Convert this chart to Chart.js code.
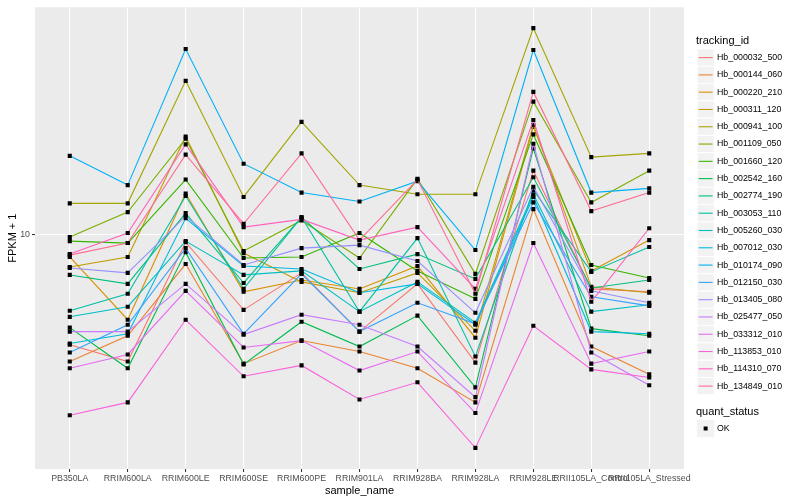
<!DOCTYPE html>
<html>
<head>
<meta charset="utf-8">
<script src="https://cdn.jsdelivr.net/npm/chart.js@4"></script>
<style>
  html, body { margin: 0; padding: 0; background: #fff; }
  #wrap { width: 800px; height: 500px; position: relative; }
</style>
</head>
<body>
<div id="wrap"><canvas id="fpkmChart" width="800" height="500"></canvas></div>
<script>
// sample names along x
const sampleNames = ["PB350LA", "RRIM600LA", "RRIM600LE", "RRIM600SE", "RRIM600PE", "RRIM901LA",
  "RRIM928BA", "RRIM928LA", "RRIM928LE", "RRII105LA_Control", "RRII105LA_Stressed"];

const trackingIds = ["Hb_000032_500", "Hb_000144_060", "Hb_000220_210", "Hb_000311_120", "Hb_000941_100",
  "Hb_001109_050", "Hb_001660_120", "Hb_002542_160", "Hb_002774_190", "Hb_003053_110", "Hb_005260_030",
  "Hb_007012_030", "Hb_010174_090", "Hb_012150_030", "Hb_013405_080", "Hb_025477_050", "Hb_033312_010",
  "Hb_113853_010", "Hb_114310_070", "Hb_134849_010"];

// FPKM + 1 per sample, one array per gene
const hb_000032_500 = [4.01, 3.49, 9.36, 5.35, 7.26, 4.47, 6.63, 3.46, 16.9, 6.36, 6.21];
const hb_000144_060 = [3.49, 4.32, 7.81, 3.43, 4.15, 3.79, 3.30, 2.49, 12.3, 3.95, 3.14];
const hb_000220_210 = [8.28, 4.93, 14.0, 6.21, 6.85, 6.36, 7.69, 4.25, 24.3, 7.38, 9.52];
const hb_000311_120 = [7.62, 8.28, 22.4, 8.55, 6.74, 6.16, 7.26, 4.50, 24.7, 6.47, 6.16];
const hb_000941_100 = [12.9, 12.9, 35.5, 13.6, 25.3, 15.0, 13.9, 13.9, 54.9, 18.9, 19.5];
const hb_001109_050 = [9.76, 12.0, 22.0, 8.70, 11.2, 8.21, 15.8, 7.20, 29.9, 13.0, 16.9];
const hb_001660_120 = [9.44, 9.29, 15.7, 8.21, 8.28, 10.1, 7.38, 5.86, 22.8, 7.75, 6.96];
const hb_002542_160 = [4.62, 3.30, 8.62, 3.41, 4.85, 3.95, 5.10, 2.82, 20.3, 4.58, 4.32];
const hb_002774_190 = [7.14, 6.63, 11.9, 6.68, 11.5, 7.50, 8.48, 6.91, 16.0, 6.41, 6.85];
const hb_003053_110 = [5.31, 6.11, 13.7, 6.36, 11.5, 5.27, 9.68, 3.64, 14.4, 7.32, 8.99];
const hb_005260_030 = [5.05, 5.49, 9.44, 7.14, 7.38, 5.27, 6.74, 4.81, 13.9, 5.27, 5.58];
const hb_007012_030 = [4.05, 4.39, 11.4, 7.69, 7.50, 6.16, 6.63, 4.73, 13.6, 4.47, 4.39];
const hb_010174_090 = [19.1, 15.0, 46.2, 17.9, 14.1, 13.1, 15.5, 8.77, 45.8, 14.1, 14.6];
const hb_012150_030 = [3.76, 4.73, 8.91, 4.39, 7.20, 4.47, 5.67, 4.77, 13.0, 5.96, 5.53];
const hb_013405_080 = [7.56, 7.26, 11.6, 7.75, 8.91, 9.13, 8.01, 5.22, 14.8, 6.26, 5.67];
const hb_025477_050 = [4.47, 4.47, 6.63, 4.36, 5.14, 4.73, 3.95, 2.60, 21.1, 3.76, 2.87];
const hb_033312_010 = [3.30, 3.70, 6.26, 3.92, 4.15, 3.24, 3.79, 2.28, 9.29, 3.43, 3.79];
const hb_113853_010 = [2.24, 2.49, 4.93, 3.09, 3.38, 2.55, 2.94, 1.71, 4.69, 3.27, 3.06];
const hb_114310_070 = [8.48, 10.1, 21.0, 10.6, 11.3, 9.52, 10.6, 6.36, 25.7, 5.72, 10.5];
const hb_134849_010 = [8.41, 9.29, 19.3, 10.9, 19.5, 9.52, 15.7, 6.11, 32.4, 12.1, 14.1];

const seriesValues = [hb_000032_500, hb_000144_060, hb_000220_210, hb_000311_120, hb_000941_100,
  hb_001109_050, hb_001660_120, hb_002542_160, hb_002774_190, hb_003053_110, hb_005260_030,
  hb_007012_030, hb_010174_090, hb_012150_030, hb_013405_080, hb_025477_050, hb_033312_010,
  hb_113853_010, hb_114310_070, hb_134849_010];

const yTicks = [10];

// ggplot default hue palette for 20 groups
const hueColors = ["#F8766D", "#EA8331", "#D89000", "#C09B00", "#A3A500", "#7CAE00", "#39B600",
  "#00BB4E", "#00BF7D", "#00C1A3", "#00BFC4", "#00BAE0", "#00B0F6", "#35A2FF", "#9590FF",
  "#C77CFF", "#E76BF3", "#FA62DB", "#FF62BC", "#FF6C91"];

const FONT = '"Liberation Sans", Arial, sans-serif';

const panelBg = {
  id: 'panelBg',
  beforeDraw(chart) {
    const {ctx, chartArea: a} = chart;
    ctx.save();
    ctx.fillStyle = '#EBEBEB';
    ctx.fillRect(a.left, a.top, a.right - a.left, a.bottom - a.top);
    ctx.restore();
  }
};

const sideLegend = {
  id: 'sideLegend',
  afterDraw(chart) {
    const ctx = chart.ctx;
    const keyX = 697, keySize = 17.28, step = 17.29;
    ctx.save();
    ctx.textBaseline = 'middle';
    ctx.textAlign = 'left';
    ctx.fillStyle = '#000';
    ctx.font = '11px ' + FONT;
    ctx.fillText('tracking_id', 696, 40.5);
    ctx.font = '8.8px ' + FONT;
    trackingIds.forEach((id, i) => {
      const cy = 57.6 + i * step;
      ctx.fillStyle = '#F2F2F2';
      ctx.fillRect(keyX, cy - keySize / 2, keySize, keySize);
      ctx.strokeStyle = '#fff';
      ctx.lineWidth = 1;
      ctx.strokeRect(keyX, cy - keySize / 2, keySize, keySize);
      ctx.strokeStyle = hueColors[i];
      ctx.lineWidth = 1.1;
      ctx.beginPath();
      ctx.moveTo(keyX + 1.7, cy);
      ctx.lineTo(keyX + keySize - 1.7, cy);
      ctx.stroke();
      ctx.fillStyle = '#000';
      ctx.fillText(id, 717, cy);
    });
    ctx.font = '11px ' + FONT;
    ctx.fillText('quant_status', 696, 411.7);
    const cy = 428.5;
    ctx.fillStyle = '#F2F2F2';
    ctx.fillRect(keyX, cy - keySize / 2, keySize, keySize);
    ctx.fillStyle = '#000';
    ctx.fillRect(keyX + keySize / 2 - 2, cy - 2, 4, 4);
    ctx.font = '8.8px ' + FONT;
    ctx.fillText('OK', 717, cy);
    ctx.restore();
  }
};

const datasets = seriesValues.map((vals, i) => ({
  label: trackingIds[i],
  data: vals.map((v, j) => ({x: j, y: v})),
  borderColor: hueColors[i],
  backgroundColor: hueColors[i],
  borderWidth: 1.1,
  pointStyle: 'rect',
  pointRadius: 2.9,
  pointBorderWidth: 0,
  pointBackgroundColor: '#000',
  tension: 0,
  fill: false,
  order: -i
}));

new Chart(document.getElementById('fpkmChart'), {
  type: 'line',
  data: { datasets: datasets },
  plugins: [panelBg, sideLegend],
  options: {
    responsive: false,
    animation: false,
    layout: { padding: { top: 5, right: 116, left: 0, bottom: 0 }, autoPadding: false },
    plugins: { legend: { display: false }, tooltip: { enabled: false } },
    scales: {
      x: {
        type: 'linear',
        min: -0.6,
        max: sampleNames.length - 0.4,
        afterBuildTicks: (scale) => { scale.ticks = sampleNames.map((_, i) => ({value: i})); },
        afterFit: (scale) => { scale.height = 31; },
        border: { display: false },
        grid: { color: '#FFFFFF', lineWidth: 1.07, tickColor: '#333333', tickLength: 3 },
        ticks: {
          autoSkip: false, maxRotation: 0, minRotation: 0, padding: 1.5,
          color: '#4D4D4D', font: { family: FONT, size: 8.8 },
          callback: (v) => sampleNames[v]
        },
        title: {
          display: true, text: 'sample_name', color: '#000',
          font: { family: FONT, size: 11 }, padding: { top: 0, bottom: 2.4 }
        }
      },
      y: {
        type: 'logarithmic',
        min: 1.436,
        max: 65.2,
        afterBuildTicks: (scale) => { scale.ticks = yTicks.map(v => ({value: v})); },
        afterFit: (scale) => { scale.width = 35; },
        border: { display: false },
        grid: { color: '#FFFFFF', lineWidth: 1.07, tickColor: '#333333', tickLength: 3 },
        ticks: {
          padding: 2, color: '#4D4D4D', font: { family: FONT, size: 8.8 },
          callback: (v) => String(v)
        },
        title: {
          display: true, text: 'FPKM + 1', color: '#000',
          font: { family: FONT, size: 11 }, padding: { top: 6, bottom: 0 }
        }
      }
    }
  }
});
</script>
</body>
</html>
